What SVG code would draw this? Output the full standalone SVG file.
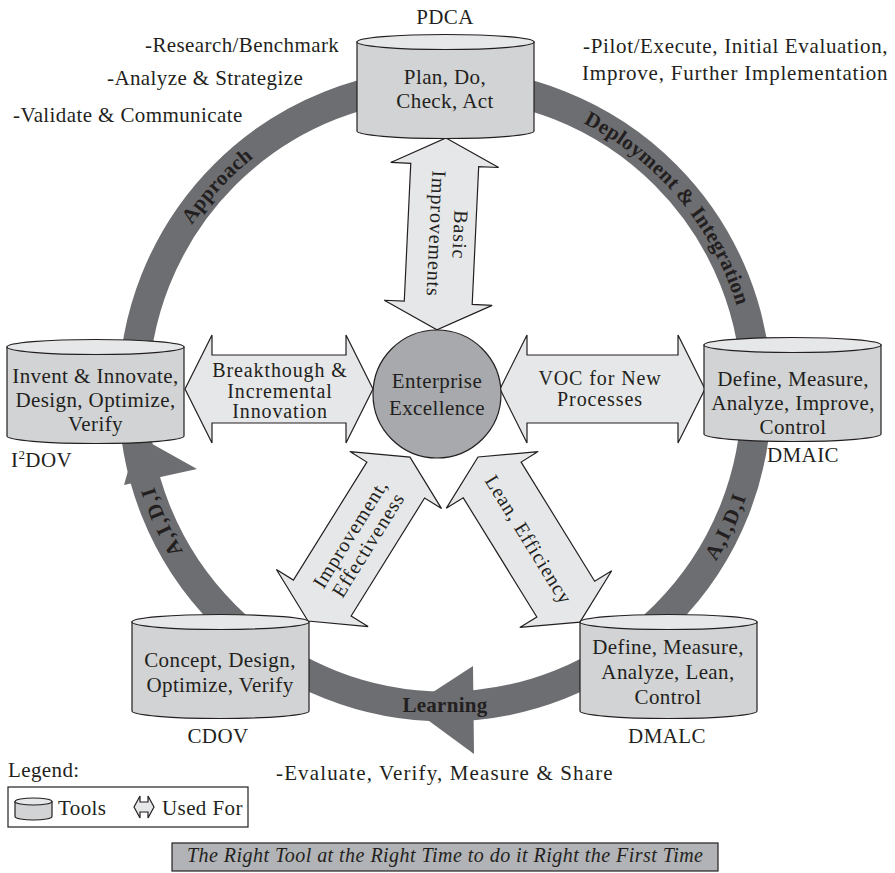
<svg xmlns="http://www.w3.org/2000/svg" width="895" height="873" viewBox="0 0 895 873">
<style>
.t{font-family:"Liberation Serif","Times New Roman",serif;fill:#231f20;font-size:21px;letter-spacing:0.4px}
.s{font-size:20px;letter-spacing:0.9px}
.c{text-anchor:middle}
.b{font-weight:bold;font-size:21px;letter-spacing:0.3px}
.cy-body{fill:#d1d3d4;stroke:#231f20;stroke-width:1.2}
.cy-top{fill:#e6e7e8;stroke:#231f20;stroke-width:1.2}
.arr{fill:#e6e7e8;stroke:#231f20;stroke-width:1.2;stroke-linejoin:miter}
.ring{fill:none;stroke:#6d6e71;stroke-width:30}
.rh{fill:#6d6e71}
</style>
<defs>
<g id="cyl">
<path class="cy-body" d="M0,0 L0,89 A88.5,7.5 0 0 0 177,89 L177,0 Z"/>
<ellipse class="cy-top" cx="88.5" cy="0" rx="88.5" ry="7.5"/>
</g>
<path id="pApproach" d="M154.1,303.3 A305,305 0 0 1 328.3,113.2"/>
<path id="pDeploy" d="M498,94.6 A305,305 0 0 1 750,395"/>
<path id="pAidiR" d="M669.9,619.9 A318,318 0 0 0 761.8,422.7"/>
<path id="pAidiL" d="M225.6,606.9 A305,305 0 0 1 140.7,416.3"/>
</defs>

<g id="connectors">
<circle class="ring" cx="445" cy="395" r="311.5"/>
<polygon class="rh" points="473,666 474,754 410,707"/>
<polygon class="rh" points="124,485 197,469 138,436"/>
<text class="t b"><textPath href="#pApproach" startOffset="50%" text-anchor="middle">Approach</textPath></text>
<text class="t b"><textPath href="#pDeploy" startOffset="50%" text-anchor="middle">Deployment &amp; Integration</textPath></text>
<text class="t b" style="letter-spacing:1.5px"><textPath href="#pAidiR" startOffset="50%" text-anchor="middle">A,I,D,I</textPath></text>
<text class="t b" style="letter-spacing:1.5px"><textPath href="#pAidiL" startOffset="50%" text-anchor="middle">A,I,D,I</textPath></text>
<text class="t b c" x="445" y="712">Learning</text>

<g id="arrow-basic" transform="translate(446,138) rotate(92.7)">
<polygon class="arr" points="0,0 27,-54 27,-34 165,-34 165,-54 192,0 165,54 165,34 27,34 27,54"/>
<text class="t s c" x="96" y="-12">Basic</text>
<text class="t s c" x="96" y="12">Improvements</text>
</g>
<g id="arrow-breakthrough" transform="translate(185,389)">
<polygon class="arr" points="0,0 27,-54 27,-34 161,-34 161,-54 188,0 161,54 161,34 27,34 27,54"/>
<text class="t s c" x="95" y="-12">Breakthough &amp;</text>
<text class="t s c" x="95" y="8.5">Incremental</text>
<text class="t s c" x="95" y="29">Innovation</text>
</g>
<g id="arrow-voc" transform="translate(500,389)">
<polygon class="arr" points="0,0 27,-54 27,-34 178,-34 178,-54 205,0 178,54 178,34 27,34 27,54"/>
<text class="t s c" x="100" y="-4">VOC for New</text>
<text class="t s c" x="100" y="16.5">Processes</text>
</g>
<g id="arrow-improvement" transform="translate(308,621) rotate(-58.1)">
<polygon class="arr" points="0,0 27,-54 27,-34 166,-34 166,-54 193,0 166,54 166,34 27,34 27,54"/>
<text class="t s c" x="96.5" y="-3.5">Improvement,</text>
<text class="t s c" x="96.5" y="17.5">Effectiveness</text>
</g>
<g id="arrow-lean" transform="translate(478,457) rotate(58.3)">
<polygon class="arr" points="0,0 27,-54 27,-34 167,-34 167,-54 194,0 167,54 167,34 27,34 27,54"/>
<text class="t s c" x="97" y="7">Lean, Efficiency</text>
</g>
</g>

<g id="enterprise">
<circle cx="437" cy="394" r="64" fill="#a7a9ac" stroke="#231f20" stroke-width="1.2"/>
<text class="t c" x="437" y="388">Enterprise</text>
<text class="t c" x="437" y="415">Excellence</text>
</g>

<g id="pdca">
<use href="#cyl" x="357" y="42"/>
<text class="t c" x="445" y="24">PDCA</text>
<text class="t c" x="445" y="84">Plan, Do,</text>
<text class="t c" x="445" y="108">Check, Act</text>
</g>

<g id="i2dov">
<use href="#cyl" x="7" y="347"/>
<text class="t c" x="95.5" y="383">Invent &amp; Innovate,</text>
<text class="t c" x="95.5" y="407">Design, Optimize,</text>
<text class="t c" x="95.5" y="431">Verify</text>
<text class="t" x="11" y="467">I<tspan dy="-8" font-size="13">2</tspan><tspan dy="8">DOV</tspan></text>
</g>

<g id="dmaic">
<use href="#cyl" x="704" y="345"/>
<text class="t c" x="793" y="386">Define, Measure,</text>
<text class="t c" x="793" y="410">Analyze, Improve,</text>
<text class="t c" x="793" y="434">Control</text>
<text class="t c" x="803" y="462">DMAIC</text>
</g>

<g id="cdov">
<use href="#cyl" x="132" y="622"/>
<text class="t c" x="220" y="667">Concept, Design,</text>
<text class="t c" x="220" y="692">Optimize, Verify</text>
<text class="t c" x="218" y="743">CDOV</text>
</g>

<g id="dmalc">
<use href="#cyl" x="580" y="622"/>
<text class="t c" x="668" y="654">Define, Measure,</text>
<text class="t c" x="668" y="679">Analyze, Lean,</text>
<text class="t c" x="668" y="704">Control</text>
<text class="t c" x="667" y="743">DMALC</text>
</g>

<g id="notes">
<text class="t" x="145" y="52">-Research/Benchmark</text>
<text class="t" x="107" y="85">-Analyze &amp; Strategize</text>
<text class="t" x="13" y="122">-Validate &amp; Communicate</text>
<text class="t" x="583" y="53" textLength="305" lengthAdjust="spacing">-Pilot/Execute, Initial Evaluation,</text>
<text class="t" x="582" y="80" textLength="306" lengthAdjust="spacing">Improve, Further Implementation</text>
<text class="t" x="276" y="780" textLength="337" lengthAdjust="spacing">-Evaluate, Verify, Measure &amp; Share</text>
</g>

<g id="legend">
<text class="t" x="8" y="777">Legend:</text>
<rect x="8" y="787" width="240" height="40" fill="#ffffff" stroke="#231f20" stroke-width="1.2"/>
<path class="cy-body" d="M15,801.5 L15,816.5 A18.5,3.5 0 0 0 52,816.5 L52,801.5 Z"/>
<ellipse class="cy-top" cx="33.5" cy="801.5" rx="18.5" ry="3.5"/>
<text class="t" x="58" y="815">Tools</text>
<polygon class="arr" transform="translate(134,807)" points="0,0 6,-11 6,-5 14,-5 14,-11 20,0 14,11 14,5 6,5 6,11"/>
<text class="t" x="162" y="815">Used For</text>
</g>

<g id="caption">
<rect x="172" y="843" width="546" height="28" fill="#b1b3b6" stroke="#231f20" stroke-width="1.2"/>
<text class="t" x="187" y="862" font-style="italic" style="font-size:20px;letter-spacing:0" textLength="516" lengthAdjust="spacing">The Right Tool at the Right Time to do it Right the First Time</text>
</g>
</svg>
